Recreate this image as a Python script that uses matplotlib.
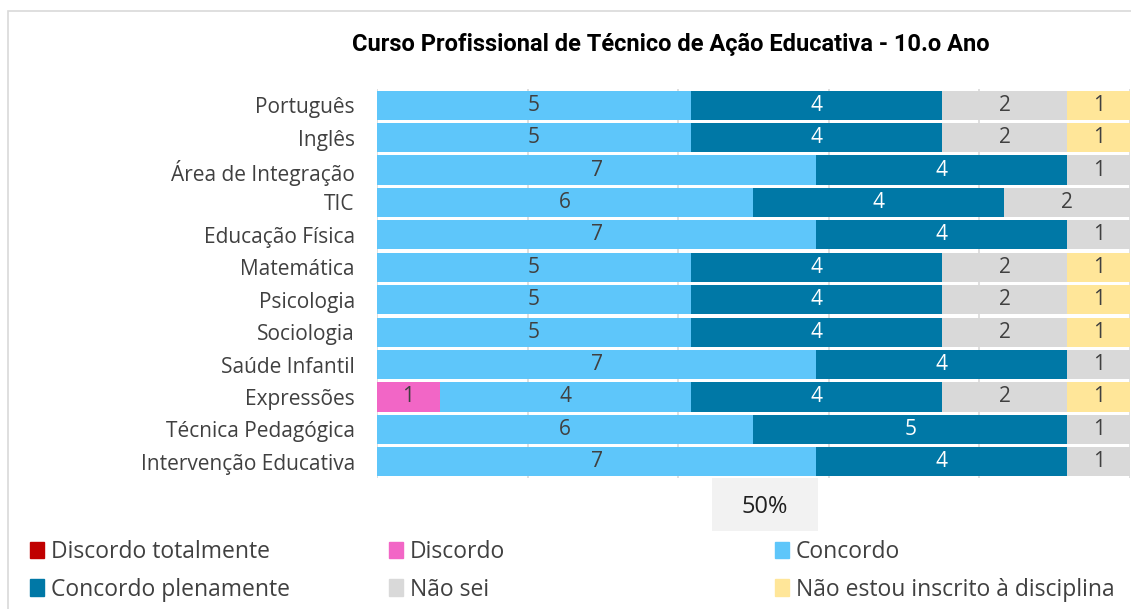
import matplotlib
matplotlib.use("Agg")
import matplotlib.pyplot as plt
import matplotlib.patches as mpatches
from matplotlib import font_manager

# ---- data ----
subjects = ["Português", "Inglês", "Área de Integração", "TIC", "Educação Física",
            "Matemática", "Psicologia", "Sociologia", "Saúde Infantil", "Expressões",
            "Técnica Pedagógica", "Intervenção Educativa"]
categories = ["Discordo totalmente", "Discordo", "Concordo", "Concordo plenamente",
              "Não sei", "Não estou inscrito à disciplina"]
discordo_totalmente = [0, 0, 0, 0, 0, 0, 0, 0, 0, 0, 0, 0]
discordo = [0, 0, 0, 0, 0, 0, 0, 0, 0, 1, 0, 0]
concordo = [5, 5, 7, 6, 7, 5, 5, 5, 7, 4, 6, 7]
concordo_plenamente = [4, 4, 4, 4, 4, 4, 4, 4, 4, 4, 5, 4]
nao_sei = [2, 2, 1, 2, 1, 2, 2, 2, 1, 2, 1, 1]
nao_inscrito = [1, 1, 0, 0, 0, 1, 1, 1, 0, 1, 0, 0]
n_students = 12

colors = ["#C00000", "#F266C6", "#5EC6FA", "#0078A6", "#D9D9D9", "#FFE699"]
label_colors = ["white", "#404040", "#404040", "white", "#404040", "#404040"]

installed = {f.name for f in font_manager.fontManager.ttflist}
TEXT_FONT = "Open Sans" if "Open Sans" in installed else "DejaVu Sans"
TITLE_FONT = "Roboto" if "Roboto" in installed else "DejaVu Sans"

W, H = 1131, 609
fig = plt.figure(figsize=(W / 100, H / 100), dpi=100)
ax = fig.add_axes([377 / W, 1 - 478 / H, 753 / W, 389 / H])

# chart border
fig.patches.append(mpatches.Rectangle((8 / W, -0.01), 1.0, 1.01 - 11 / H, transform=fig.transFigure,
                                      fill=False, edgecolor="#D9D9D9", linewidth=1.2))

series = [discordo_totalmente, discordo, concordo, concordo_plenamente, nao_sei, nao_inscrito]
y = list(range(len(subjects)))
left = [0.0] * len(subjects)
for name, vals, col, tcol in zip(categories, series, colors, label_colors):
    widths = [v / n_students * 100 for v in vals]
    bars = ax.barh(y, widths, left=left, height=0.9, color=col, label=name, zorder=2)
    for b, v in zip(bars, vals):
        if v > 0:
            ax.text(b.get_x() + b.get_width() / 2, b.get_y() + b.get_height() / 2, str(v),
                    ha="center", va="center", fontsize=15, color=tcol,
                    family=TEXT_FONT, zorder=3)
    left = [l + w for l, w in zip(left, widths)]

ax.set_xlim(0, 100)
ax.set_ylim(len(subjects) - 0.5, -0.5)
ax.set_xticks([0, 20, 40, 60, 80, 100])
ax.set_xticklabels([])
ax.tick_params(axis="x", length=0)
ax.tick_params(axis="y", length=0, pad=16)
ax.set_yticks(y)
ax.set_yticklabels(subjects, fontsize=15, color="#404040", family=TEXT_FONT)
ax.grid(axis="x", color="#D9D9D9", linewidth=1.2, zorder=0)
for s in ax.spines.values():
    s.set_visible(False)

# highlighted 50% tick
fig.patches.append(mpatches.Rectangle((712 / W, 1 - 531 / H), 106 / W, 53 / H,
                                      transform=fig.transFigure, facecolor="#F2F2F2",
                                      edgecolor="none"))
fig.text(765 / W, 1 - 507 / H, "50%", ha="center", va="center", fontsize=17,
         color="#202020", family=TEXT_FONT, zorder=5)

fig.text(671 / W, 1 - 44 / H, "Curso Profissional de Técnico de Ação Educativa - 10.o Ano",
         ha="center", va="center", fontsize=17, fontweight="bold", color="black",
         family=TITLE_FONT)

# legend: three columns of two entries
handles = [mpatches.Patch(color=c, label=n) for c, n in zip(colors, categories)]
col_x = [30 / W, 389 / W, 775 / W]
for i, x in enumerate(col_x):
    fig.legend(handles=[handles[i], handles[i + 3]], loc="upper left",
               bbox_to_anchor=(x, 1 - 540 / H), frameon=False, ncol=1,
               prop={"family": TEXT_FONT, "size": 16.5}, labelcolor="#404040",
               handlelength=0.6, handleheight=0.75, handletextpad=0.3, labelspacing=0.6,
               borderpad=0, borderaxespad=0)

fig.savefig("out.png", dpi=100)
